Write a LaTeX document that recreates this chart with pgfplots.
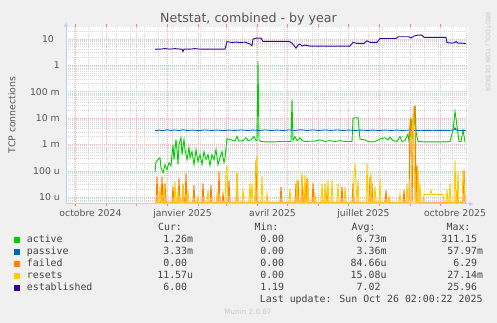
\documentclass[border=0pt]{standalone}
\usepackage{fontspec}
\setmainfont{DejaVu Sans}
\newfontfamily\monof{DejaVu Sans Mono}
\usepackage{pgfplots}
\pgfplotsset{compat=1.18}
\usetikzlibrary{arrows.meta}
\definecolor{cactive}{HTML}{00CC00}
\definecolor{cpassive}{HTML}{0066B3}
\definecolor{cfailed}{HTML}{FF8000}
\definecolor{cresets}{HTML}{FFCC00}
\definecolor{cestab}{HTML}{330099}
\definecolor{bgc}{HTML}{F0F0F0}
\definecolor{txt}{HTML}{555555}
\definecolor{ltxt}{HTML}{444444}
\definecolor{axc}{HTML}{C4CCF6}
\definecolor{faint}{HTML}{C8C8C8}
\newcommand{\tf}{\fontsize{9.3}{11}\selectfont}
\newcommand{\lf}{\monof\fontsize{9.9}{12}\selectfont}
\begin{document}
\begin{tikzpicture}
\fill[bgc] (0,0) rectangle (497pt,323pt);
\useasboundingbox (0,0) rectangle (497pt,323pt);
\begin{axis}[
  at={(66pt,119pt)}, anchor=south west,
  width=402pt, height=177pt, scale only axis,
  xmin=-9, xmax=393,
  ymode=log, ymin=5.6e-6, ymax=27.9,
  axis line style={draw=none},
  axis background/.style={fill=white},
  xtick={0,31,61,92,123,151,182,212,243,273,304,335,365},
  xticklabels={},
  minor xtick={-1,13,27,41,55,69,83,97,111,125,139,153,167,181,195,209,223,237,251,265,279,293,307,321,349,363,377,391},
  xmajorgrids, xminorgrids, ymajorgrids, yminorgrids,
  major grid style={draw=red!30, line width=0.5pt, dash pattern=on 1pt off 1pt},
  minor grid style={draw=black!16, line width=0.5pt, dash pattern=on 1pt off 1pt},
  tick align=outside,
  major tick length=2.5pt, minor tick length=0pt,
  xtick style={draw=red!50, line width=0.8pt},
  ytick style={draw=none},
  ytick={1e-5,1e-4,1e-3,1e-2,1e-1,1,10},
  yticklabels={10 u,100 u,1 m,10 m,100 m,1,10\phantom{0}},
  minor ytick={6e-6,7e-6,8e-6,9e-6,2e-5,3e-5,4e-5,5e-5,6e-5,7e-5,8e-5,9e-5,2e-4,3e-4,4e-4,5e-4,6e-4,7e-4,8e-4,9e-4,2e-3,3e-3,4e-3,5e-3,6e-3,7e-3,8e-3,9e-3,2e-2,3e-2,4e-2,5e-2,6e-2,7e-2,8e-2,9e-2,0.2,0.3,0.4,0.5,0.6,0.7,0.8,0.9,2,3,4,5,6,7,8,9,20},
  yticklabel style={font=\tf, text=txt, anchor=east, inner sep=0pt, xshift=-3.5pt},
  extra x ticks={15.5,107.5,197.5,288.5,380},
  extra x tick labels={octobre 2024,janvier 2025,avril 2025,juillet 2025,octobre 2025},
  extra x tick style={major tick length=0pt, xmajorgrids=false,
     xticklabel style={font=\tf, text=txt, anchor=base, inner sep=0pt, yshift=-12.5pt}},
  every axis plot/.append style={line width=0.9pt},
]
% active
\addplot[cactive] coordinates {(80,9.3e-5)(81,2.24e-4)(83,2.67e-4)(85,3.18e-4)(86,1.32e-4)(88,8.5e-5)(90,1.72e-4)(92,1.11e-4)(94,2.05e-4)(96,1.58e-4)(97,4.13e-4)(98,9.9e-4)(99,2.67e-4)(101,1.54e-3)(102,6.4e-4)(103,1.72e-4)(104,9.9e-4)(106,1.83e-3)(107,4.13e-4)(109,1.54e-3)(110,6.4e-4)(112,2.67e-4)(114,7.62e-4)(115,3.18e-4)(117,5.37e-4)(119,1.72e-4)(121,6.4e-4)(123,2.24e-4)(125,4.13e-4)(127,1.72e-4)(129,5.37e-4)(131,2.67e-4)(133,4.13e-4)(135,1.58e-4)(137,4.13e-4)(139,2.67e-4)(141,6.4e-4)(143,1.72e-4)(145,3.18e-4)(147,5.37e-4)(149,2.05e-4)(150,3.18e-4)(152,1.68e-3)(153,1.6e-3)(156,1.5e-3)(160,1.35e-3)(162,2.05e-3)(164,1.35e-3)(168,1.4e-3)(171,1.8e-3)(173,1.4e-3)(176,1.5e-3)(179,2.0e-3)(181,1.4e-3)(182,1.45e-3)(183,1.45)(184,1.5e-3)(186,1.3e-3)(190,1.25e-3)(200,1.25e-3)(205,1.3e-3)(210,1.3e-3)(216,1.3e-3)(217,0.051)(218,1.4e-3)(220,2.0e-3)(222,1.4e-3)(225,1.8e-3)(227,1.4e-3)(230,1.3e-3)(240,1.35e-3)(245,1.5e-3)(250,1.3e-3)(255,1.4e-3)(260,1.3e-3)(265,1.4e-3)(270,1.3e-3)(277,1.3e-3)(278,9.5e-3)(280,1.03e-2)(283,1.03e-2)(285,1.6e-3)(290,1.5e-3)(293,1.3e-3)(298,1.25e-3)(300,1.3e-3)(305,1.6e-3)(310,1.8e-3)(313,1.5e-3)(315,1.9e-3)(318,1.4e-3)(322,1.3e-3)(325,2.0e-3)(327,1.3e-3)(330,1.4e-3)(333,2.5e-3)(334,1.3e-3)(336,1.0e-2)(338,1.5e-3)(340,0.03)(341,3e-3)(343,1.3e-3)(350,1.25e-3)(360,1.25e-3)(370,1.25e-3)(375,1.3e-3)(378,3.5e-3)(380,1.8e-2)(382,5e-3)(384,1.3e-3)(386,1.3e-3)(388,3.5e-3)(390,1.26e-3)};
% passive
\addplot[cpassive] coordinates {(80,3.3e-3)(84,3.5e-3)(88,3.35e-3)(92,3.6e-3)(96,3.4e-3)(100,3.55e-3)(104,3.35e-3)(108,3.6e-3)(112,3.4e-3)(118,3.5e-3)(124,3.35e-3)(130,3.55e-3)(136,3.4e-3)(142,3.5e-3)(148,3.35e-3)(154,3.5e-3)(160,3.4e-3)(166,3.55e-3)(172,3.4e-3)(178,3.5e-3)(184,3.4e-3)(190,3.55e-3)(196,3.4e-3)(202,3.5e-3)(208,3.4e-3)(214,3.55e-3)(220,3.4e-3)(226,3.6e-3)(232,3.4e-3)(238,3.55e-3)(244,3.4e-3)(250,3.55e-3)(256,3.4e-3)(262,3.55e-3)(268,3.4e-3)(274,3.5e-3)(280,3.4e-3)(286,3.5e-3)(292,3.4e-3)(298,3.5e-3)(304,3.4e-3)(310,3.5e-3)(316,3.4e-3)(322,3.5e-3)(328,3.4e-3)(334,3.5e-3)(340,3.4e-3)(346,3.45e-3)(352,3.4e-3)(358,3.45e-3)(364,3.4e-3)(370,3.4e-3)(376,3.45e-3)(379,3.6e-3)(380,4.3e-3)(381,3.5e-3)(385,3.4e-3)(391,3.33e-3)};
% failed
\addplot[cfailed] coordinates {(80,6.2e-6)(81,6.2e-6)(82,6.2e-5)(83,6.2e-6)(86,6.2e-6)(87,6.2e-5)(88,6.2e-6)(89,6.2e-6)(90,3.5e-5)(91,6.2e-6)(97,6.2e-6)(98,2.6e-5)(99,6.2e-6)(103,6.2e-6)(104,5.4e-5)(105,6.2e-6)(107,6.2e-6)(108,3e-5)(109,6.2e-6)(110,6.2e-6)(111,8.3e-5)(112,6.2e-6)(118,6.2e-6)(119,3e-5)(120,6.2e-6)(127,6.2e-6)(128,3.5e-5)(129,6.2e-6)(135,6.2e-6)(136,3e-5)(137,6.2e-6)(143,6.2e-6)(144,9.6e-5)(145,6.2e-6)(147,6.2e-6)(148,1.4e-5)(149,6.2e-6)(153,6.2e-6)(154,4.6e-5)(155,6.2e-6)(161,6.2e-6)(162,8.5e-5)(163,6.2e-6)(180,6.2e-6)(181,2.7e-4)(182,6.2e-6)(205,6.2e-6)(206,2.6e-5)(207,6.2e-6)(220,6.2e-6)(221,3.5e-5)(222,6.2e-6)(223,4.6e-5)(224,6.2e-6)(226,6.2e-6)(227,6.2e-5)(228,6.2e-6)(229,6.2e-6)(230,2.6e-5)(231,6.2e-6)(232,5.5e-5)(233,6.2e-6)(237,6.2e-6)(238,3.5e-5)(239,6.2e-6)(251,6.2e-6)(252,1.4e-5)(253,6.2e-6)(266,6.2e-6)(267,2.6e-5)(268,6.2e-6)(277,6.2e-6)(278,3.5e-5)(279,6.2e-6)(294,6.2e-6)(295,6.2e-5)(296,6.2e-6)(297,3.5e-5)(298,6.2e-6)(310,6.2e-6)(311,1.9e-5)(312,6.2e-6)(328,6.2e-6)(329,1.9e-5)(330,6.2e-6)(334,6.2e-6)(335,8.8e-3)(336,8.8e-3)(337,6.2e-6)(338,6.4e-4)(339,2.8e-2)(340,2.8e-2)(341,6.2e-6)(342,1.7e-4)(343,6.2e-6)(381,6.2e-6)(382,1.9e-5)(383,6.2e-6)(388,6.2e-6)(389,1.1e-4)(390,6.2e-6)(391,6.2e-6)};
% resets
\addplot[cresets] coordinates {(80,6.2e-6)(84,6.2e-6)(85,2.6e-5)(86,6.2e-6)(88,6.2e-6)(89,3.5e-5)(90,6.2e-6)(99,6.2e-6)(100,4e-5)(101,6.2e-6)(102,6.2e-6)(103,1.9e-5)(104,6.2e-6)(107,6.2e-6)(108,3.5e-5)(109,6.2e-6)(112,6.2e-6)(113,1.9e-5)(114,6.2e-6)(122,6.2e-6)(123,1.1e-5)(124,6.2e-6)(132,6.2e-6)(133,1.9e-5)(134,6.2e-6)(141,6.2e-6)(142,1.4e-5)(143,6.2e-6)(150,6.2e-6)(151,8e-5)(152,1.7e-4)(153,6.2e-6)(161,6.2e-6)(162,9.6e-5)(163,6.2e-6)(167,6.2e-6)(168,2.2e-5)(169,6.2e-6)(174,6.2e-6)(175,3.5e-5)(176,6.2e-6)(177,3.5e-5)(178,6.2e-6)(180,6.2e-6)(181,1.5e-4)(182,4.1e-4)(183,6.2e-6)(186,6.2e-6)(187,6.2e-5)(188,6.2e-6)(191,6.2e-6)(192,1.4e-5)(193,6.2e-6)(214,6.2e-6)(215,2.2e-5)(216,6.2e-6)(221,6.2e-6)(222,4.6e-5)(223,6.2e-6)(226,6.2e-6)(227,8.3e-5)(228,2e-5)(229,6.2e-6)(230,7.2e-5)(231,6.2e-6)(232,6.2e-6)(233,4.6e-5)(234,6.2e-6)(239,6.2e-6)(240,1.4e-5)(241,6.2e-6)(246,6.2e-6)(247,3.5e-5)(248,6.2e-6)(249,6.2e-6)(250,3.5e-5)(251,6.2e-6)(252,6.2e-6)(253,4.6e-5)(254,6.2e-6)(256,6.2e-6)(257,4.6e-5)(258,6.2e-6)(262,6.2e-6)(263,3.5e-5)(264,6.2e-6)(269,6.2e-6)(270,2.6e-5)(271,6.2e-6)(278,6.2e-6)(279,6e-5)(280,2e-4)(281,3e-5)(282,6.2e-6)(283,4.6e-5)(284,6.2e-6)(291,6.2e-6)(292,2e-4)(293,6.2e-6)(295,6.2e-6)(296,8.3e-5)(297,6.2e-6)(299,6.2e-6)(300,2.6e-5)(301,6.2e-6)(304,6.2e-6)(305,4.6e-5)(306,6.2e-6)(313,6.2e-6)(314,1.1e-5)(315,6.2e-6)(324,6.2e-6)(325,1.4e-5)(326,6.2e-6)(331,6.2e-6)(332,3.5e-5)(333,6.2e-6)(336,6.2e-6)(337,2e-3)(338,1.6e-2)(339,5e-4)(340,6.2e-6)(342,6.2e-6)(343,1.1e-4)(344,6.2e-6)(345,3.5e-5)(346,6.2e-6)(348,6.2e-6)(349,1.3e-5)(352,1.3e-5)(355,1.3e-5)(356,1.9e-5)(357,1.3e-5)(362,1.3e-5)(366,1.3e-5)(368,1.3e-5)(369,6.2e-6)(371,6.2e-6)(372,1.9e-5)(373,6.2e-6)(374,6.2e-6)(375,3.5e-5)(376,6.2e-6)(379,6.2e-6)(380,2.7e-4)(381,6.2e-6)(382,6.2e-6)(383,8.3e-5)(384,6.2e-6)(387,6.2e-6)(388,1.1e-4)(389,3.5e-5)(390,1.16e-5)(391,1.16e-5)};
% established
\addplot[cestab] coordinates {(80,4.06)(85,4.06)(90,4.24)(95,4.06)(100,4.24)(105,4.06)(107,4.06)(108,3.26)(109,4.06)(115,4.06)(120,4.24)(125,4.06)(130,4.06)(135,4.06)(140,4.06)(145,4.06)(150,4.06)(152,7.83)(157,7.17)(161,7.49)(165,7.17)(170,7.49)(175,6.29)(177,5.51)(178,9.74)(181,10.6)(186,10.6)(188,7.96)(195,7.96)(205,7.96)(214,7.96)(217,6.86)(221,4.43)(223,5.76)(225,6.29)(227,5.28)(230,5.76)(235,5.28)(240,5.28)(245,5.3)(255,5.3)(265,5.3)(275,5.3)(278,7.3)(282,6.7)(289,6.7)(292,8.4)(295,7.3)(302,7.3)(305,10.3)(315,10.2)(321,10.2)(323,11.9)(329,11.9)(334,11.9)(336,10.6)(339,12.7)(343,13.8)(347,13.8)(349,11.3)(360,11.3)(371,11.3)(372,7.17)(377,6.86)(380,7.17)(381,7.83)(383,6.86)(387,6.86)(391,6.57)};
\end{axis}
% axis arrows
\draw[axc, line width=1pt, -{Latex[length=5pt,width=5pt]}] (66pt,119pt) -- (66pt,301pt);
\draw[axc, line width=1pt, -{Latex[length=5pt,width=5pt]}] (66pt,119pt) -- (474pt,119pt);
% titles
\node[text=txt, font=\fontsize{12.6}{14}\selectfont] at (248.5pt,303.5pt) {Netstat, combined - by year};
\node[text=txt, font=\tf, rotate=90] at (12pt,208pt) {TCP connections};
\node[text=faint, font=\fontsize{6.2}{7}\selectfont, rotate=-90] at (488pt,271pt) {RRDTOOL / TOBI OETIKER};
\node[text=faint, font=\fontsize{7.2}{8}\selectfont] at (248pt,11.3pt) {Munin 2.0.67};
% legend
\begin{scope}[every node/.style={text=ltxt, font=\lf, inner sep=0pt}]
\node[anchor=base] at (170pt,92.5pt) {Cur:};
\node[anchor=base] at (266.5pt,92.5pt) {Min:};
\node[anchor=base] at (363.5pt,92.5pt) {Avg:};
\node[anchor=base] at (458.5pt,92.5pt) {Max:};
\fill[cactive] (14pt,80.3pt) rectangle (20pt,86.3pt);
\fill[cpassive] (14pt,68.2pt) rectangle (20pt,74.2pt);
\fill[cfailed] (14pt,56.1pt) rectangle (20pt,62.1pt);
\fill[cresets] (14pt,44pt) rectangle (20pt,50pt);
\fill[cestab] (14pt,31.9pt) rectangle (20pt,37.9pt);
\node[anchor=base west] at (26.7pt,80.5pt) {active};
\node[anchor=base west] at (26.7pt,68.4pt) {passive};
\node[anchor=base west] at (26.7pt,56.3pt) {failed};
\node[anchor=base west] at (26.7pt,44.2pt) {resets};
\node[anchor=base west] at (26.7pt,32.1pt) {established};
\node[anchor=base east] at (193.3pt,80.5pt) {1.26m};
\node[anchor=base east] at (193.3pt,68.4pt) {3.33m};
\node[anchor=base east] at (193.3pt,56.3pt) {0.00\phantom{m}};
\node[anchor=base east] at (193.3pt,44.2pt) {11.57u};
\node[anchor=base east] at (193.3pt,32.1pt) {6.00\phantom{m}};
\node[anchor=base east] at (290.3pt,80.5pt) {0.00\phantom{m}};
\node[anchor=base east] at (290.3pt,68.4pt) {0.00\phantom{m}};
\node[anchor=base east] at (290.3pt,56.3pt) {0.00\phantom{m}};
\node[anchor=base east] at (290.3pt,44.2pt) {0.00\phantom{m}};
\node[anchor=base east] at (290.3pt,32.1pt) {1.19\phantom{m}};
\node[anchor=base east] at (386.7pt,80.5pt) {6.73m};
\node[anchor=base east] at (386.7pt,68.4pt) {3.36m};
\node[anchor=base east] at (386.7pt,56.3pt) {84.66u};
\node[anchor=base east] at (386.7pt,44.2pt) {15.08u};
\node[anchor=base east] at (386.7pt,32.1pt) {7.02\phantom{m}};
\node[anchor=base east] at (483.3pt,80.5pt) {311.15\phantom{m}};
\node[anchor=base east] at (483.3pt,68.4pt) {57.97m};
\node[anchor=base east] at (483.3pt,56.3pt) {6.29\phantom{m}};
\node[anchor=base east] at (483.3pt,44.2pt) {27.14m};
\node[anchor=base east] at (483.3pt,32.1pt) {25.96\phantom{m}};
\node[anchor=base east] at (482.7pt,20.5pt) {Last update: Sun Oct 26 02:00:22 2025};
\end{scope}
\end{tikzpicture}
\end{document}
